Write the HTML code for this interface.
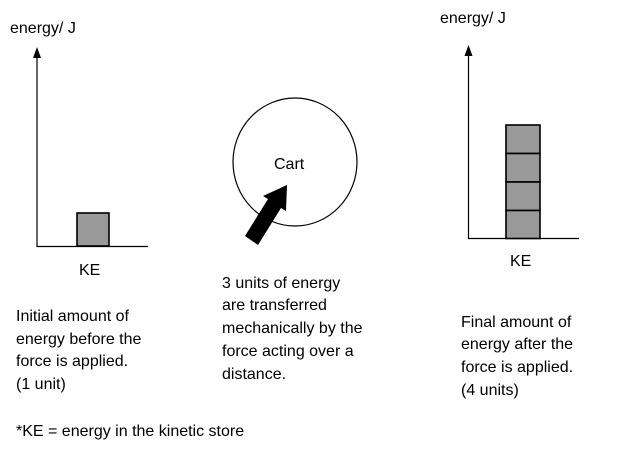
<!DOCTYPE html>
<html><head><style>
body{margin:0;background:#fff;}
svg text{font-family:"Liberation Sans",Arial,sans-serif;font-size:16px;fill:#000;}
</style></head><body>
<svg width="617" height="446" viewBox="0 0 617 446" xmlns="http://www.w3.org/2000/svg">
<rect width="617" height="446" fill="#fff"/>
<line x1="37" y1="56" x2="37" y2="247" stroke="#000" stroke-width="1.2"/>
<polygon points="37,47 33,58 41,58" fill="#000"/>
<line x1="37" y1="246.5" x2="148" y2="246.5" stroke="#000" stroke-width="1.2"/>
<rect x="77" y="213" width="32" height="33" fill="#999" stroke="#000" stroke-width="1.6"/>
<text x="10" y="33">energy/ J</text>
<text x="79" y="275">KE</text>
<ellipse cx="295" cy="162" rx="62" ry="64" fill="none" stroke="#000" stroke-width="1.2"/>
<text x="274" y="169">Cart</text>
<polygon points="245,236 268,199 263,196 287,185 286,211 281,208 258,245" fill="#000"/>
<line x1="468.5" y1="54" x2="468.5" y2="239" stroke="#000" stroke-width="1.2"/>
<polygon points="468.5,45 464.5,56 472.5,56" fill="#000"/>
<line x1="468" y1="238.5" x2="579" y2="238.5" stroke="#000" stroke-width="1.2"/>
<rect x="506" y="125" width="34" height="28.5" fill="#999" stroke="#000" stroke-width="1.6"/>
<rect x="506" y="153.5" width="34" height="28.5" fill="#999" stroke="#000" stroke-width="1.6"/>
<rect x="506" y="182" width="34" height="28.5" fill="#999" stroke="#000" stroke-width="1.6"/>
<rect x="506" y="210.5" width="34" height="28" fill="#999" stroke="#000" stroke-width="1.6"/>
<text x="440" y="23">energy/ J</text>
<text x="510" y="266">KE</text>
<text x="16" y="321">Initial amount of</text>
<text x="16" y="344">energy before the</text>
<text x="16" y="366">force is applied.</text>
<text x="16" y="389">(1 unit)</text>
<text x="222" y="288">3 units of energy</text>
<text x="222" y="310">are transferred</text>
<text x="222" y="333">mechanically by the</text>
<text x="222" y="356">force acting over a</text>
<text x="222" y="379">distance.</text>
<text x="461" y="327">Final amount of</text>
<text x="461" y="349">energy after the</text>
<text x="461" y="372">force is applied.</text>
<text x="461" y="395">(4 units)</text>
<text x="16" y="436">*KE = energy in the kinetic store</text>
</svg>
</body></html>
